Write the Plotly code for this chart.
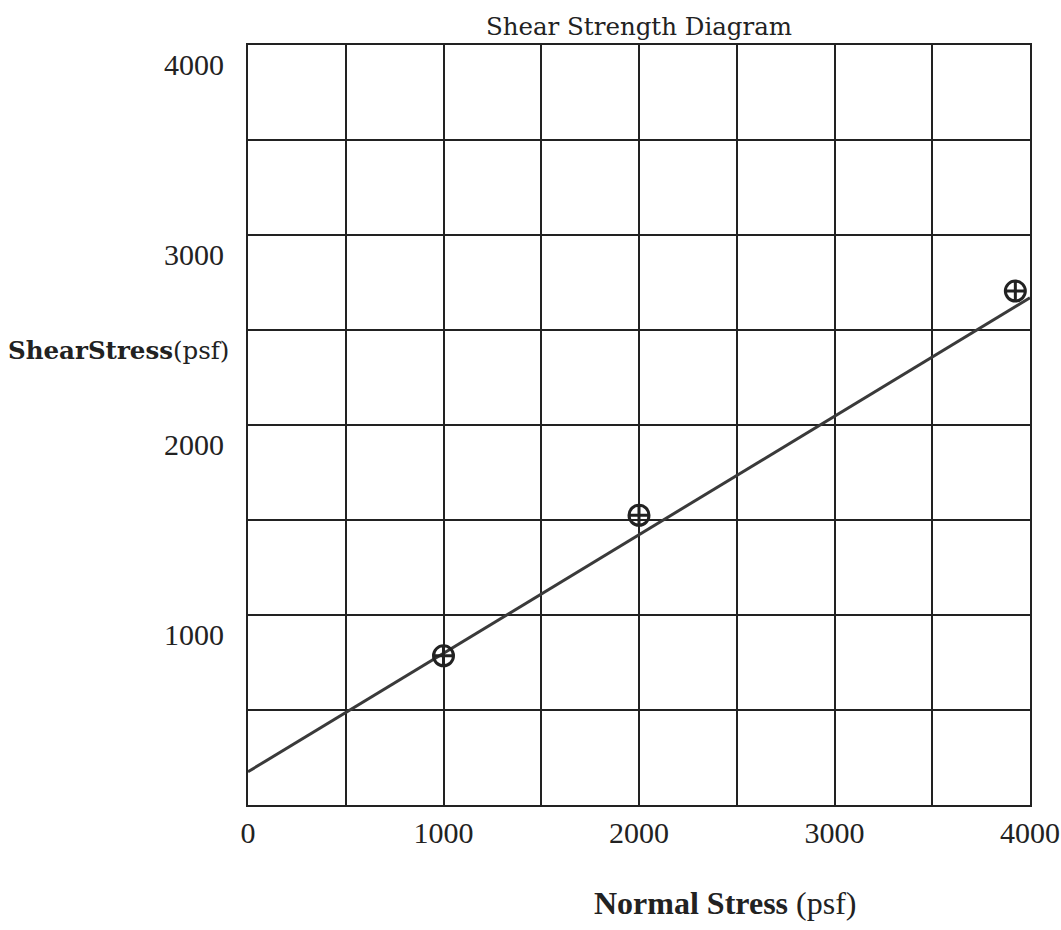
import plotly.graph_objects as go

# Data
normal_stress = [1000, 2000, 3925]          # psf
shear_stress = [785, 1525, 2705]           # psf (measured points)
fit_x = [0, 4000]                          # best-fit line end points (psf)
fit_y = [175, 2670]

x_ticks = [0, 1000, 2000, 3000, 4000]
y_ticks = [1000, 2000, 3000, 4000]
grid_step = 500

SERIF = "Liberation Serif, Times New Roman, serif"
WIDE_SERIF = "DejaVu Serif, Georgia, serif"

W, H = 1061, 930
ML, MR, MT, MB = 248, 31, 45, 125
PW, PH = W - ML - MR, H - MT - MB

fig = go.Figure()

fig.add_trace(go.Scatter(
    x=fit_x, y=fit_y, mode="lines",
    line=dict(color="#3a3a3a", width=3),
    showlegend=False, hoverinfo="skip"))

fig.add_trace(go.Scatter(
    x=normal_stress, y=shear_stress, mode="markers",
    marker=dict(symbol="circle-cross-open", size=20, color="#222",
                line=dict(width=3, color="#222")),
    showlegend=False))

axis_common = dict(
    range=[0, 4000], showgrid=True, gridcolor="#222",
    gridwidth=1.5, showline=True, linecolor="#222", linewidth=2, mirror=True,
    zeroline=False, ticks="", fixedrange=True, automargin=False,
    tickfont=dict(family=SERIF, size=30, color="#222"),
    minor=dict(dtick=grid_step, showgrid=True, gridcolor="#222", gridwidth=1.5),
)

fig.update_layout(
    width=W, height=H,
    margin=dict(l=ML, r=MR, t=MT, b=MB),
    paper_bgcolor="white", plot_bgcolor="white",
    title=dict(text="Shear Strength Diagram", x=0.5, xref="paper",
               xanchor="center", y=1 - 26 / H, yref="container",
               yanchor="middle", automargin=False,
               font=dict(family=WIDE_SERIF, size=24.5, color="#222")),
    xaxis=dict(axis_common, tickmode="array", tickvals=x_ticks,
               ticktext=[str(v) for v in x_ticks], ticklabelstandoff=0),
    yaxis=dict(axis_common, tickmode="array", tickvals=y_ticks,
               ticktext=[str(v) for v in y_ticks], ticklabelstandoff=16,
               ticklabelshift=19),
)

fig.add_annotation(
    text="<b>ShearStress</b>(psf)", xref="paper", yref="paper",
    x=(6 - ML) / PW, y=(H - MB - 350) / PH, xanchor="left", yanchor="middle",
    showarrow=False, font=dict(family=WIDE_SERIF, size=24.5, color="#222"))

fig.add_annotation(
    text="<b>Normal Stress</b> (psf)", xref="paper", yref="paper",
    x=(725 - ML) / PW, y=-(903 - (H - MB)) / PH, xanchor="center", yanchor="middle",
    showarrow=False, font=dict(family=SERIF, size=32, color="#222"))

fig.write_html("out.html")
